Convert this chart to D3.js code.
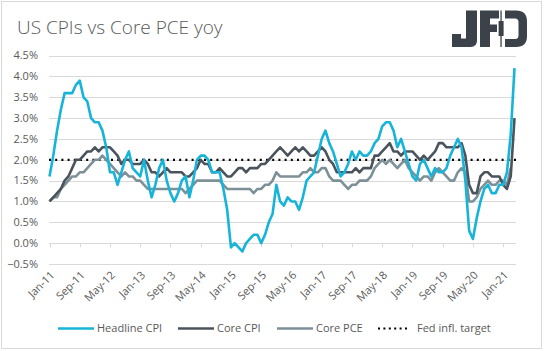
<!DOCTYPE html>
<html>
<head>
<meta charset="utf-8">
<script src="https://cdn.jsdelivr.net/npm/d3@7"></script>
<style>
  body { margin: 0; background: #fff; }
  text { font-family: "Open Sans", sans-serif; fill: #595959; }
</style>
</head>
<body>
<svg id="svg1" width="544" height="351"></svg>
<script>
// monthly yoy %, Jan-11 .. Apr-21
var headline = [1.6,2.1,2.7,3.2,3.6,3.6,3.6,3.8,3.9,3.5,3.4,3.0,
  2.9,2.9,2.7,2.3,1.7,1.7,1.4,1.7,2.0,2.2,1.8,1.7,
  1.6,2.0,1.5,1.1,1.4,1.8,2.0,1.5,1.2,1.0,1.2,1.5,
  1.6,1.1,1.5,2.0,2.1,2.1,2.0,1.7,1.7,1.7,1.3,0.8,
  -0.1,0.0,-0.1,-0.2,0.0,0.1,0.2,0.2,0.0,0.2,0.5,0.7,
  1.4,1.0,0.9,1.1,1.0,1.0,0.8,1.1,1.5,1.6,1.7,2.1,
  2.5,2.7,2.4,2.2,1.9,1.6,1.7,1.9,2.2,2.0,2.2,2.1,
  2.1,2.2,2.4,2.5,2.8,2.9,2.9,2.7,2.3,2.5,2.2,1.9,
  1.6,1.5,1.9,2.0,1.8,1.6,1.8,1.7,1.7,1.8,2.1,2.3,
  2.5,2.3,1.5,0.3,0.1,0.6,1.0,1.3,1.4,1.2,1.2,1.4,
  1.4,1.7,2.6,4.2]
var coreCpi = [1.0,1.1,1.2,1.3,1.5,1.6,1.8,2.0,2.0,2.1,2.2,2.2,
  2.3,2.2,2.3,2.3,2.3,2.2,2.1,1.9,2.0,2.0,1.9,1.9,
  1.9,2.0,1.9,1.7,1.7,1.6,1.7,1.8,1.7,1.7,1.7,1.7,
  1.6,1.6,1.7,1.8,2.0,1.9,1.9,1.7,1.7,1.8,1.7,1.6,
  1.6,1.7,1.8,1.8,1.7,1.8,1.8,1.8,1.9,1.9,2.0,2.1,
  2.2,2.3,2.2,2.1,2.2,2.3,2.2,2.3,2.2,2.1,2.1,2.2,
  2.3,2.2,2.0,1.9,1.7,1.7,1.7,1.7,1.7,1.8,1.7,1.8,
  1.8,1.8,2.1,2.1,2.2,2.3,2.4,2.2,2.2,2.1,2.2,2.2,
  2.2,2.1,2.0,2.1,2.0,2.1,2.2,2.4,2.4,2.3,2.3,2.3,
  2.3,2.4,2.1,1.4,1.2,1.2,1.6,1.7,1.7,1.6,1.6,1.6,
  1.4,1.3,1.6,3.0]
var corePce = [1.0,1.1,1.1,1.3,1.4,1.5,1.6,1.6,1.7,1.7,1.8,1.9,
  2.0,2.0,2.1,2.0,1.9,1.8,1.7,1.6,1.7,1.6,1.6,1.5,
  1.5,1.4,1.3,1.3,1.3,1.3,1.3,1.3,1.3,1.3,1.3,1.3,
  1.2,1.3,1.4,1.5,1.5,1.5,1.5,1.5,1.5,1.5,1.4,1.3,
  1.3,1.3,1.3,1.3,1.3,1.3,1.2,1.3,1.3,1.4,1.4,1.5,
  1.7,1.6,1.6,1.6,1.6,1.6,1.6,1.7,1.7,1.8,1.7,1.7,
  1.8,1.8,1.6,1.5,1.5,1.5,1.4,1.3,1.4,1.4,1.5,1.5,
  1.5,1.6,1.8,1.9,2.0,1.9,2.0,1.9,1.8,1.9,2.0,1.8,
  1.7,1.6,1.5,1.6,1.6,1.5,1.7,1.8,1.7,1.6,1.5,1.5,
  1.7,1.8,1.7,1.0,1.0,1.1,1.3,1.4,1.5,1.4,1.4,1.5,
  1.5,1.4,1.8]
var fedTarget = 2.0
var monthNames = ["Jan","Feb","Mar","Apr","May","Jun","Jul","Aug","Sep","Oct","Nov","Dec"]
var labelIdx = d3.range(0, 121, 8)
var yTicks = d3.range(-0.5, 4.51, 0.5)

var svg = d3.select("#svg1")

var x = d3.scaleLinear().domain([0, 123]).range([49.5, 514.5])
var y = d3.scaleLinear().domain([-0.5, 4.5]).range([264, 55.6])

function monthLabel(i){
    var yr = 2011 + Math.floor(i/12)
    return monthNames[i%12] + "-" + String(yr).slice(2)
}

// outer frame
svg.append("rect").attr("x",1.5).attr("y",1.5).attr("width",540).attr("height",347)
   .attr("fill","none").attr("stroke","#d9d9d9")

// title
svg.append("text").attr("x",17).attr("y",34).style("font-size","19px").style("font-weight",300)
   .text("US CPIs vs Core PCE yoy")

// logo
var logo = svg.append("g").attr("fill","#3b4249")
logo.append("path").attr("d","M466,10.5 H477 V40.5 Q477,47 470.5,47 H452 V34 H461 V38.5 H466 Z")
logo.append("path").attr("d","M480,10.5 H499 V18.5 H490 V24.5 H497 V32 H490 V47 H480 Z")
logo.append("rect").attr("x",500.4).attr("y",10.5).attr("width",1.3).attr("height",36.5)
logo.append("rect").attr("x",498.6).attr("y",21).attr("width",5).attr("height",15)
logo.append("path").attr("d","M505,10.5 H516 Q527,10.5 527,21.5 V36 Q527,47 516,47 H505 V39 H515 Q518.5,39 518.5,35.5 V22 Q518.5,18.5 515,18.5 H505 Z")

// gridlines + y labels
svg.append("g").selectAll("line").data(yTicks).join("line")
   .attr("x1",49).attr("x2",516)
   .attr("y1",d=>Math.round(y(d))+0.5).attr("y2",d=>Math.round(y(d))+0.5)
   .attr("stroke","#d9d9d9").attr("stroke-width",1)

svg.append("g").selectAll("text").data(yTicks).join("text")
   .attr("x",38).attr("y",d=>y(d)).attr("dy","0.35em")
   .attr("text-anchor","end").style("font-size","11px")
   .text(d=>d3.format(".1f")(d)+"%")

// x ticks on the 0% line
svg.append("g").selectAll("line").data(labelIdx).join("line")
   .attr("x1",d=>Math.round(x(d))+0.5).attr("x2",d=>Math.round(x(d))+0.5)
   .attr("y1",y(0)).attr("y2",y(0)+4)
   .attr("stroke","#d9d9d9")

svg.append("g").selectAll("text").data(labelIdx).join("text")
   .attr("transform",d=>"translate("+(x(d)+3)+",273) rotate(-45)")
   .attr("text-anchor","end").attr("dy","0.35em").style("font-size","11px")
   .text(d=>monthLabel(d))

// series
var line = d3.line().x((d,i)=>x(i)).y(d=>y(d))

svg.append("line").attr("x1",49).attr("x2",516).attr("y1",y(fedTarget)).attr("y2",y(fedTarget))
   .attr("stroke","#000").attr("stroke-width",2.2).attr("stroke-dasharray","2,4.2")

svg.append("path").datum(corePce).attr("d",line).attr("fill","none")
   .attr("stroke","#7d9098").attr("stroke-width",2.6).attr("stroke-linejoin","round")
svg.append("path").datum(coreCpi).attr("d",line).attr("fill","none")
   .attr("stroke","#4b545d").attr("stroke-width",2.6).attr("stroke-linejoin","round")
svg.append("path").datum(headline).attr("d",line).attr("fill","none")
   .attr("stroke","#17b4d9").attr("stroke-width",2.6).attr("stroke-linejoin","round")

// legend
var legendItems = [
  {name:"Headline CPI", color:"#17b4d9", x:58, dash:null},
  {name:"Core CPI", color:"#4b545d", x:178, dash:null},
  {name:"Core PCE", color:"#7d9098", x:277, dash:null},
  {name:"Fed infl. target", color:"#000", x:378, dash:"2,3.4"}
]
var lg = svg.append("g").selectAll("g").data(legendItems).join("g")
   .attr("transform",d=>"translate("+d.x+",328.5)")
lg.append("line").attr("x1",0).attr("x2",d=>d.dash ? 29 : 36).attr("y1",0).attr("y2",0)
  .attr("stroke",d=>d.color).attr("stroke-width",d=>d.dash ? 1.8 : 2.6)
  .attr("stroke-dasharray",d=>d.dash)
lg.append("text").attr("x",d=>d.dash ? 39 : 39).attr("dy","0.35em").style("font-size","11px")
  .text(d=>d.name)
</script>
</body>
</html>
